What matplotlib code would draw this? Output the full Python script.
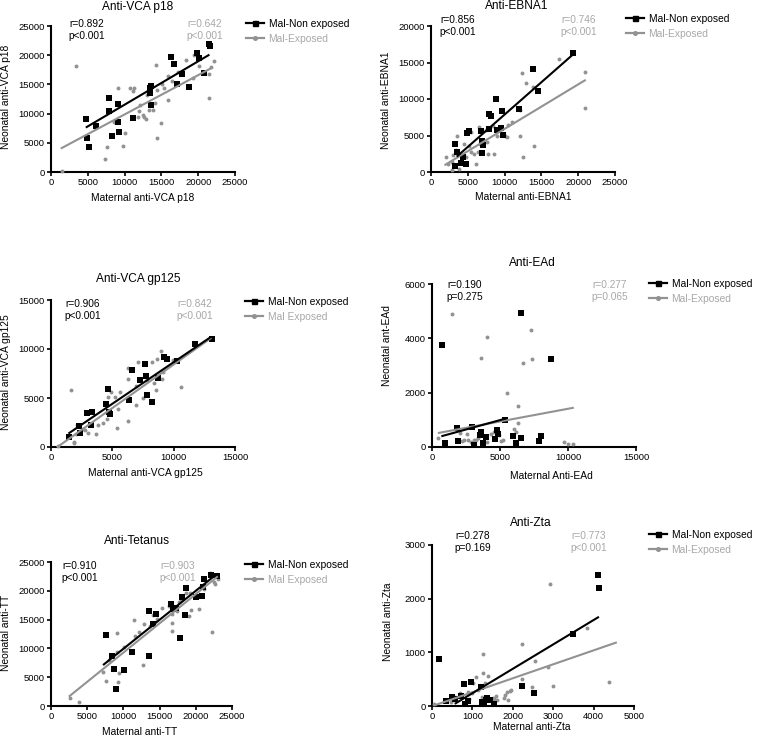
import matplotlib
matplotlib.use("Agg")
import matplotlib.pyplot as plt
from matplotlib.lines import Line2D

plt.rcParams['font.family'] = ['Liberation Sans', 'DejaVu Sans']

W, H = 760, 739
GRAY = '#929292'
GRAY_TXT = '#a8a8a8'

# ---- Anti-VCA p18
p18_non_x = [4750, 4850, 5100, 6070, 7900, 7850, 9050, 9150, 9250, 8300, 11150, 13400, 13550, 13400, 13550,
             16300, 16750, 17100, 17800, 18700, 19900, 20150, 20800, 21400, 21550]
p18_non_y = [9000, 5760, 4300, 7900, 12700, 10500, 11600, 8600, 6850, 6200, 9250, 14300, 14700, 13500, 11500,
             19700, 18550, 15100, 16850, 14500, 20300, 19600, 17000, 22000, 21500]
p18_exp_x = [1450, 3450, 7550, 7350, 9150, 9750, 10100, 10800, 11300, 11200, 12000, 11800, 12650, 12900, 12500,
             12100, 13300, 13850, 14100, 14200, 14350, 14950, 15100, 15350, 14350, 15900, 15900, 17300, 18350,
             19250, 19400, 20100, 21400, 21400, 21800, 22100, 13000, 8600, 16500]
p18_exp_y = [200, 18100, 4200, 2200, 14400, 4450, 6600, 14400, 14400, 13900, 10400, 9500, 9500, 9000, 9700,
             11400, 10600, 10700, 11900, 18400, 5900, 8400, 15100, 14300, 14100, 12300, 16500, 17100, 19200,
             16100, 20100, 18200, 12700, 16700, 18000, 19000, 13100, 8500, 15500]
p18_fit_non = ([4850, 21400], [7700, 20000])
p18_fit_exp = ([1450, 21800], [4100, 17800])

# ---- Anti-EBNA1
ebna_non_x = [3200, 3300, 3600, 4050, 4350, 4800, 4950, 5100, 6750, 6950, 7000, 6950, 7900, 7900, 8150,
              8800, 8900, 9450, 9750, 9700, 12000, 13800, 14550, 19350]
ebna_non_y = [3800, 800, 2750, 1200, 2000, 1050, 5350, 5600, 5600, 4300, 3750, 2550, 5850, 7900, 7700,
              10000, 5700, 6050, 5100, 8350, 8600, 14150, 11100, 16300]
ebna_exp_x = [2000, 2250, 2850, 2950, 2850, 3400, 3600, 3750, 3950, 4500, 4800, 5100, 5400, 5500, 5800,
              6050, 6450, 6550, 6650, 6950, 7450, 7650, 7750, 8400, 8550, 8900, 9300, 10050, 10350, 10400,
              11000, 12150, 12100, 12300, 12550, 12900, 14000, 13850, 17350, 20900, 20950]
ebna_exp_y = [2050, 1050, 1370, 2300, 250, 3000, 5000, 400, 1370, 3800, 2050, 3500, 5500, 2700, 2500,
              1100, 2750, 6100, 3900, 4300, 5800, 4150, 2500, 6250, 2450, 4950, 6000, 5000, 4800, 6400,
              6850, 4900, 8450, 13500, 2050, 12150, 3600, 11600, 15500, 13650, 8800]
ebna_fit_non = ([3600, 19350], [2200, 16150])
ebna_fit_exp = ([1950, 20900], [1000, 12550])

# ---- Anti-VCA gp125
gp_non_x = [1470, 2280, 2360, 2960, 3320, 3260, 4460, 4620, 4780, 4720, 6330, 6570, 7260, 7640, 7740,
            7830, 8230, 8720, 9240, 9430, 10270, 11740, 13130]
gp_non_y = [990, 2180, 1430, 3480, 3610, 2250, 4400, 5900, 3340, 3580, 4840, 7840, 6820, 8420, 7260,
            5350, 4600, 7000, 9170, 8930, 8800, 10470, 10980]
gp_exp_x = [600, 1600, 1870, 2040, 2150, 2640, 3040, 3130, 3640, 3830, 4200, 4860, 4620, 5190, 5490,
            5380, 5620, 6270, 6250, 6250, 6900, 6930, 7070, 7530, 7830, 8230, 8400, 8560, 8610, 9000,
            9020, 9160, 9950, 10600, 4600, 1900, 2800]
gp_exp_y = [100, 5860, 550, 1360, 2280, 1840, 1430, 2280, 1360, 2280, 2450, 5600, 5100, 5150, 3850,
            1980, 5620, 2630, 8110, 6950, 4300, 6240, 8660, 5010, 6820, 8660, 6480, 5860, 9000, 9790,
            6890, 7670, 8860, 6100, 2900, 400, 1700]
gp_fit_non = ([1490, 13000], [1430, 11200])
gp_fit_exp = ([520, 13000], [0, 11080])

# ---- Anti-EAd
ead_non_x = [760, 930, 1860, 1910, 2960, 3100, 3550, 3620, 3770, 3960, 4750, 4820, 4600, 5380, 5950,
             6210, 6530, 6560, 7850, 8050, 8780]
ead_non_y = [3745, 135, 715, 220, 740, 60, 455, 555, 135, 370, 640, 490, 295, 985, 395,
             160, 4930, 345, 220, 395, 3250]
ead_exp_x = [440, 1500, 2080, 2230, 2370, 2570, 2620, 2840, 3060, 3400, 3620, 3200, 4010, 4040, 4330,
             4530, 4920, 5060, 5210, 5530, 6000, 6210, 6290, 6340, 6660, 7270, 7340, 9690, 10030, 10400]
ead_exp_y = [320, 4890, 530, 235, 245, 470, 270, 185, 245, 345, 3280, 245, 4040, 195, 490,
             540, 455, 235, 270, 1995, 680, 555, 1515, 887, 3105, 4300, 3230, 195, 100, 100]
ead_fit_non = ([760, 5400], [405, 1045])
ead_fit_exp = ([510, 10350], [520, 1440])

# ---- Anti-Tetanus
tt_non_x = [7630, 8460, 8730, 8920, 10060, 11170, 13560, 13560, 14060, 14570, 16640, 16900, 17280, 17780,
            18100, 18470, 18600, 20080, 20900, 21000, 21140, 22150, 22890]
tt_non_y = [12240, 8660, 6350, 2890, 6240, 9300, 16570, 8660, 14320, 15940, 17670, 16860, 17030, 11720,
            18880, 15880, 20500, 18940, 19170, 20670, 22050, 22800, 22630]
tt_exp_x = [2670, 3910, 7170, 7580, 8000, 9050, 9150, 9370, 9280, 10110, 11400, 11670, 12090, 12680, 12820,
            13740, 14060, 14610, 15400, 16270, 16770, 16680, 16770, 17370, 17650, 18010, 18700, 19160, 19120,
            19350, 20450, 20540, 21090, 21970, 22200, 22470, 22700, 23070]
tt_exp_y = [1390, 750, 5830, 4390, 7910, 9410, 12590, 5770, 4160, 10280, 15000, 12180, 12880, 7160, 14260,
            13910, 15880, 15180, 16970, 17440, 16050, 14430, 13100, 16450, 18010, 18360, 19690, 19690, 15590,
            16690, 16920, 19230, 20270, 23150, 12880, 21540, 21190, 22110]
tt_fit_non = ([7300, 22840], [7220, 22860])
tt_fit_exp = ([2570, 22930], [1730, 22400])

# ---- Anti-Zta
zta_non_x = [165, 340, 500, 570, 730, 790, 820, 890, 970, 1210, 1230, 1280, 1330, 1360, 1430, 1540,
             2240, 2520, 3480, 4110, 4130]
zta_non_y = [870, 87, 168, 124, 186, 410, 31, 93, 441, 360, 68, 81, 118, 143, 118, 43,
             379, 242, 1342, 2435, 2193]
zta_exp_x = [40, 460, 580, 700, 880, 920, 1000, 1010, 1080, 1140, 1230, 1260, 1270, 1300, 1380, 1500, 1530,
             1590, 1620, 1770, 1800, 1850, 1890, 1920, 1960, 2220, 2220, 2480, 2540, 2880, 2910, 2990, 3830, 4370]
zta_exp_y = [37, 68, 168, 236, 261, 137, 236, 435, 534, 298, 161, 969, 621, 422, 559, 149, 130,
             193, 112, 149, 211, 255, 106, 286, 298, 1149, 509, 354, 838, 727, 2279, 366, 1460, 453]
zta_fit_non = ([585, 4110], [50, 1652])
zta_fit_exp = ([60, 4550], [12, 1180])


fig = plt.figure(figsize=(W / 100, H / 100), dpi=100)


def px(x, y):
    # pixel position -> figure fraction
    return x / W, 1 - y / H


def panel(box, lims, steps, non, exp, fit_non, fit_exp, stats, title, xlabel, ylabel, leg_labels, pos):
    l, t, r, b = box
    ax = fig.add_axes([l / W, 1 - b / H, (r - l) / W, (b - t) / H])
    ax.scatter(exp[0], exp[1], marker='o', s=8, c=GRAY, linewidths=0, clip_on=False, zorder=3)
    ax.scatter(non[0], non[1], marker='s', s=13, c='black', linewidths=0, clip_on=False, zorder=4)
    ax.plot(fit_exp[0], fit_exp[1], color=GRAY, lw=1.5, zorder=5)
    ax.plot(fit_non[0], fit_non[1], color='black', lw=1.5, zorder=6)
    ax.set_xlim(0, lims[0])
    ax.set_ylim(0, lims[1])
    ax.set_xticks(range(0, lims[0] + 1, steps[0]))
    ax.set_yticks(range(0, lims[1] + 1, steps[1]))
    for s in ['top', 'right']:
        ax.spines[s].set_visible(False)
    for s in ['left', 'bottom']:
        ax.spines[s].set_linewidth(1.5)
    ax.tick_params(direction='out', length=3, width=1.2, labelsize=6.8, pad=1.5)

    fig.text(*px(*pos['title']), title, fontsize=8.6, ha='center', va='center')
    fig.text(*px(*pos['xlabel']), xlabel, fontsize=7.4, ha='center', va='center')
    fig.text(*px(*pos['ylabel']), ylabel, fontsize=7.4, ha='center', va='center', rotation=90)
    fig.text(*px(*pos['stat_non']), stats[0], fontsize=7.3, ha='center', va='center',
             linespacing=1.15, color='black')
    fig.text(*px(*pos['stat_exp']), stats[1], fontsize=7.3, ha='center', va='center',
             linespacing=1.15, color=GRAY_TXT)

    h1 = Line2D([], [], color='black', marker='s', markersize=3.6, lw=1.6)
    h2 = Line2D([], [], color=GRAY, marker='o', markersize=2.6, lw=1.6)
    lx, ly = pos['legend']
    leg = ax.legend([h1, h2], leg_labels, loc='upper left', bbox_to_anchor=px(lx, ly - 6),
                    bbox_transform=fig.transFigure, frameon=False, fontsize=7.4, handlelength=1.75,
                    handletextpad=0.45, labelspacing=0.45, borderpad=0, borderaxespad=0, numpoints=1)
    leg.get_texts()[1].set_color(GRAY_TXT)
    return ax


panel((51, 26, 235, 172), (25000, 25000), (5000, 5000),
      (p18_non_x, p18_non_y), (p18_exp_x, p18_exp_y), p18_fit_non, p18_fit_exp,
      ('r=0.892\np<0.001', 'r=0.642\np<0.001'), 'Anti-VCA p18',
      'Maternal anti-VCA p18', 'Neonatal anti-VCA p18', ['Mal-Non exposed', 'Mal-Exposed'],
      {'title': (138, 7), 'xlabel': (143, 198), 'ylabel': (6, 97), 'stat_non': (87, 30),
       'stat_exp': (205, 30), 'legend': (246, 25)})

panel((431, 26, 615, 172), (25000, 20000), (5000, 5000),
      (ebna_non_x, ebna_non_y), (ebna_exp_x, ebna_exp_y), ebna_fit_non, ebna_fit_exp,
      ('r=0.856\np<0.001', 'r=0.746\np<0.001'), 'Anti-EBNA1',
      'Maternal anti-EBNA1', 'Neonatal anti-EBNA1', ['Mal-Non exposed', 'Mal-Exposed'],
      {'title': (517, 6), 'xlabel': (523, 197), 'ylabel': (386, 100), 'stat_non': (458, 26),
       'stat_exp': (579, 26), 'legend': (626, 20)})

panel((51, 300, 235, 447), (15000, 15000), (5000, 5000),
      (gp_non_x, gp_non_y), (gp_exp_x, gp_exp_y), gp_fit_non, gp_fit_exp,
      ('r=0.906\np<0.001', 'r=0.842\np<0.001'), 'Anti-VCA gp125',
      'Maternal anti-VCA gp125', 'Neonatal anti-VCA gp125', ['Mal-Non exposed', 'Mal Exposed'],
      {'title': (138, 279), 'xlabel': (145, 473), 'ylabel': (6, 372), 'stat_non': (83, 310),
       'stat_exp': (195, 310), 'legend': (245, 303)})

panel((432, 284, 636, 447), (15000, 6000), (5000, 2000),
      (ead_non_x, ead_non_y), (ead_exp_x, ead_exp_y), ead_fit_non, ead_fit_exp,
      ('r=0.190\np=0.275', 'r=0.277\np=0.065'), 'Anti-EAd',
      'Maternal Anti-EAd', 'Neonatal ant-EAd', ['Mal-Non exposed', 'Mal-Exposed'],
      {'title': (532, 263), 'xlabel': (551, 476), 'ylabel': (387, 345), 'stat_non': (465, 291),
       'stat_exp': (610, 291), 'legend': (649, 285)})

panel((51, 562, 232, 706), (25000, 25000), (5000, 5000),
      (tt_non_x, tt_non_y), (tt_exp_x, tt_exp_y), tt_fit_non, tt_fit_exp,
      ('r=0.910\np<0.001', 'r=0.903\np<0.001'), 'Anti-Tetanus',
      'Maternal anti-TT', 'Neonatal anti-TT', ['Mal-Non exposed', 'Mal Exposed'],
      {'title': (137, 541), 'xlabel': (140, 732), 'ylabel': (6, 633), 'stat_non': (80, 572),
       'stat_exp': (178, 572), 'legend': (245, 566)})

panel((432, 545, 634, 706), (5000, 3000), (1000, 1000),
      (zta_non_x, zta_non_y), (zta_exp_x, zta_exp_y), zta_fit_non, zta_fit_exp,
      ('r=0.278\np=0.169', 'r=0.773\np<0.001'), 'Anti-Zta',
      'Maternal anti-Zta', 'Neonatal anti-Zta', ['Mal-Non exposed', 'Mal-Exposed'],
      {'title': (531, 523), 'xlabel': (532, 727), 'ylabel': (388, 622), 'stat_non': (473, 542),
       'stat_exp': (589, 542), 'legend': (649, 536)})

fig.savefig('out.png', dpi=100)
